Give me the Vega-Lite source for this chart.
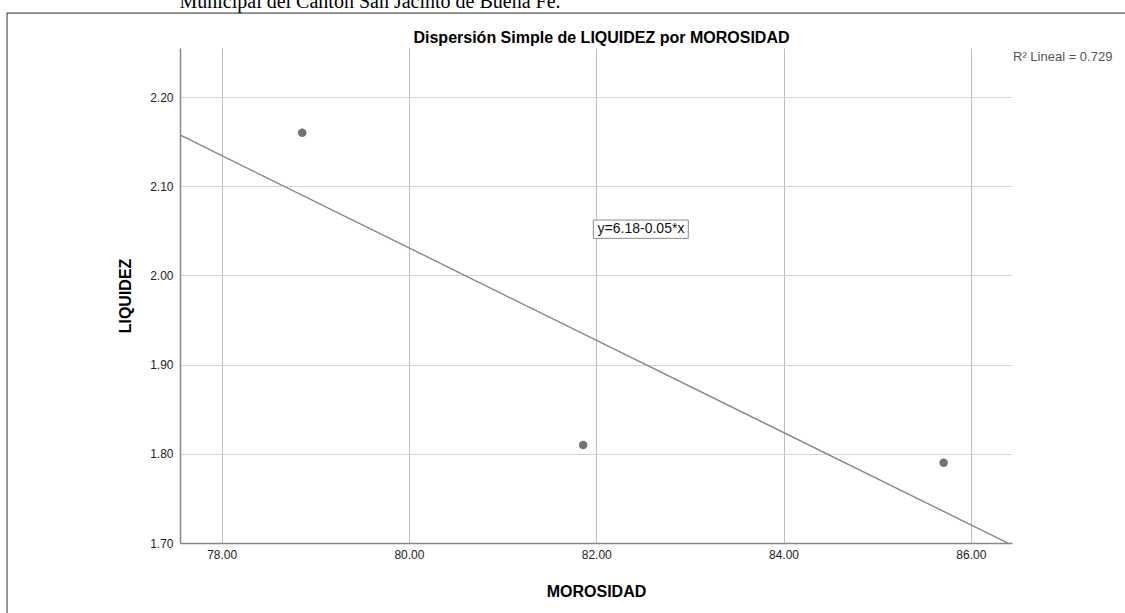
{
  "$schema": "https://vega.github.io/schema/vega-lite/v6.json",
  "width": 832,
  "height": 495,
  "autosize": {"type": "none"},
  "padding": {"left": 180, "top": 48, "right": 113, "bottom": 70},
  "background": "white",
  "config": {"view": {"stroke": null}, "font": "Liberation Sans"},
  "datasets": {
    "pts": [
      {"MOROSIDAD": 78.86, "LIQUIDEZ": 2.16},
      {"MOROSIDAD": 81.86, "LIQUIDEZ": 1.81},
      {"MOROSIDAD": 85.71, "LIQUIDEZ": 1.79}
    ]
  },
  "layer": [
    {
      "data": {"name": "pts"},
      "mark": {"type": "circle", "size": 72, "color": "#737373", "opacity": 1},
      "encoding": {
        "x": {
          "field": "MOROSIDAD",
          "type": "quantitative",
          "scale": {"domain": [77.555, 86.44], "nice": false, "zero": false},
          "axis": {
            "title": "MOROSIDAD",
            "values": [78, 80, 82, 84, 86],
            "format": ".2f",
            "grid": true,
            "gridColor": "#bdbdbd",
            "gridWidth": 1,
            "domainColor": "#888888",
            "domainWidth": 1.5,
            "ticks": false,
            "labelFontSize": 12,
            "labelColor": "#222222",
            "labelPadding": 6,
            "titleFontSize": 16,
            "titleFontWeight": "bold",
            "titleColor": "#000000",
            "titlePadding": 23
          }
        },
        "y": {
          "field": "LIQUIDEZ",
          "type": "quantitative",
          "scale": {"domain": [1.7, 2.255], "nice": false, "zero": false},
          "axis": {
            "title": "LIQUIDEZ",
            "values": [1.7, 1.8, 1.9, 2.0, 2.1, 2.2],
            "format": ".2f",
            "grid": true,
            "gridColor": "#d6d6d6",
            "gridWidth": 1,
            "domainColor": "#888888",
            "domainWidth": 1.5,
            "ticks": false,
            "labelFontSize": 12,
            "labelColor": "#222222",
            "labelPadding": 7,
            "titleFontSize": 16,
            "titleFontWeight": "bold",
            "titleColor": "#000000",
            "titlePadding": 16
          }
        }
      }
    },
    {
      "data": {"name": "pts"},
      "transform": [
        {"regression": "LIQUIDEZ", "on": "MOROSIDAD", "extent": [77.555, 86.44]}
      ],
      "mark": {"type": "line", "color": "#888888", "strokeWidth": 1.4, "clip": true},
      "encoding": {
        "x": {"field": "MOROSIDAD", "type": "quantitative"},
        "y": {"field": "LIQUIDEZ", "type": "quantitative"}
      }
    },
    {
      "data": {"values": [{}]},
      "mark": {"type": "rect", "fill": "white", "stroke": "#8a8a8a", "strokeWidth": 1},
      "encoding": {
        "x": {"datum": 81.969, "type": "quantitative"},
        "x2": {"datum": 82.983},
        "y": {"datum": 2.0621, "type": "quantitative"},
        "y2": {"datum": 2.0416}
      }
    },
    {
      "data": {"values": [{}]},
      "mark": {"type": "text", "text": "y=6.18-0.05*x", "fontSize": 14, "align": "center", "baseline": "middle", "color": "#111111"},
      "encoding": {
        "x": {"datum": 82.478, "type": "quantitative"},
        "y": {"datum": 2.052, "type": "quantitative"}
      }
    },
    {
      "data": {"values": [{}]},
      "mark": {"type": "text", "text": "Dispersión Simple de LIQUIDEZ por MOROSIDAD", "fontSize": 16, "fontWeight": "bold", "align": "center", "baseline": "alphabetic", "color": "#000000"},
      "encoding": {
        "x": {"datum": 82.056, "type": "quantitative"},
        "y": {"datum": 2.2606, "type": "quantitative"}
      }
    },
    {
      "data": {"values": [{}]},
      "mark": {"type": "text", "text": "R² Lineal = 0.729", "fontSize": 13, "align": "left", "baseline": "alphabetic", "color": "#555555"},
      "encoding": {
        "x": {"datum": 86.451, "type": "quantitative"},
        "y": {"datum": 2.2404, "type": "quantitative"}
      }
    },
    {
      "data": {"values": [{}]},
      "mark": {"type": "text", "text": "Municipal del Cantón San Jacinto de Buena Fe.", "font": "Liberation Serif", "fontSize": 20, "align": "center", "baseline": "alphabetic", "color": "#000000"},
      "encoding": {
        "x": {"datum": 79.584, "type": "quantitative"},
        "y": {"datum": 2.3004, "type": "quantitative"}
      }
    },
    {
      "data": {"values": [{}]},
      "mark": {"type": "rect", "fill": null, "stroke": "#555555", "strokeWidth": 1.2},
      "encoding": {
        "x": {"datum": 75.708, "type": "quantitative"},
        "x2": {"datum": 89.5},
        "y": {"datum": 2.2942, "type": "quantitative"},
        "y2": {"datum": 1.55}
      }
    }
  ]
}
